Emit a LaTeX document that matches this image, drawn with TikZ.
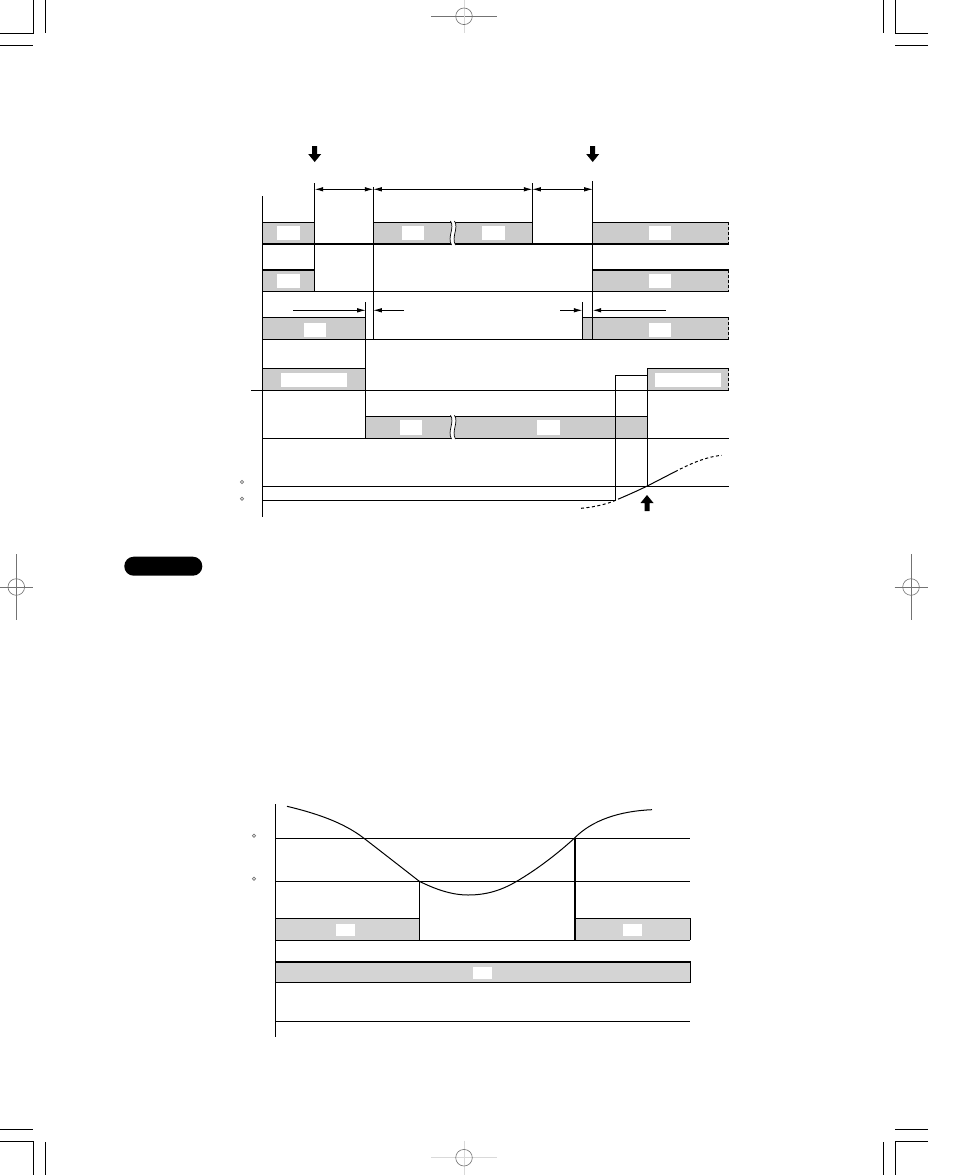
\documentclass[tikz,border=0pt]{standalone}
\usetikzlibrary{arrows.meta}
\definecolor{bandA}{gray}{0.80}
\definecolor{bandB}{gray}{0.83}
\tikzset{
  x=1pt,y=-1pt,
  ln/.style={line width=1pt,black},
  thick line/.style={line width=2pt,black},
  crop/.style={line width=1pt,black},
  reg/.style={line width=0.6pt,black!55},
  regl/.style={line width=1pt,black!15},
  white label/.style={fill=white,draw=none},
  band/.style={fill=bandA,draw=none},
  bandb/.style={fill=bandB,draw=none},
  dim/.style={line width=0.8pt,black,{Latex[length=8.5pt,width=4.5pt]}-{Latex[length=8.5pt,width=4.5pt]}},
  dimr/.style={line width=0.8pt,black,-{Latex[length=8.5pt,width=4.5pt]}},
  curve/.style={line width=1pt,black},
  dcurve/.style={line width=1pt,black,dash pattern=on 3pt off 2.5pt},
  dot/.style={line width=0.7pt,draw=black!55,fill=none},
}
\newcommand{\blockdown}[2]{\fill[black] (#1-2.5,#2) -- (#1+2.5,#2) -- (#1+2.5,#2+8) -- (#1+6.5,#2+8) -- (#1,#2+16) -- (#1-6.5,#2+8) -- (#1-2.5,#2+8) -- cycle;}
\newcommand{\blockup}[2]{\fill[black] (#1-2.5,#2) -- (#1+2.5,#2) -- (#1+2.5,#2-8) -- (#1+6.5,#2-8) -- (#1,#2-16) -- (#1-6.5,#2-8) -- (#1-2.5,#2-8) -- cycle;}
\newcommand{\squiggle}[3]{%
  \fill[white] (#1-1.5,#2-1) .. controls (#1+3,#2+6) and (#1-5,#3-7) .. (#1-0.5,#3+1) -- (#1+3.5,#3+1) .. controls (#1-1,#3-7) and (#1+7,#2+6) .. (#1+2.5,#2-1) -- cycle;
  \draw[line width=0.7pt] (#1-1.5,#2-1) .. controls (#1+3,#2+6) and (#1-5,#3-7) .. (#1-0.5,#3+1);
  \draw[line width=0.7pt] (#1+2.5,#2-1) .. controls (#1+7,#2+6) and (#1-1,#3-7) .. (#1+3.5,#3+1);}
% x, y, half horizontal, half vertical, horizontal style, vertical style
\newcommand{\regmark}[6]{%
  \draw[#5] (#1-#3,#2) -- (#1+#3,#2);
  \draw[#6] (#1,#2-#4) -- (#1,#2+#4);
  \draw[reg] (#1,#2) circle[radius=8.3];}
\begin{document}
\begin{tikzpicture}
\useasboundingbox (0,0) rectangle (954,1175);
\fill[white] (0,0) rectangle (954,1175);

% ---- crop marks
\draw[crop] (0,33.3) -- (33.3,33.3) -- (33.3,0);
\draw[crop] (0,45.3) -- (33,45.3);
\draw[crop] (45.3,0) -- (45.3,33);
\draw[crop] (928,33.3) -- (895.3,33.3) -- (895.3,0);
\draw[crop] (928,45.3) -- (895.3,45.3);
\draw[crop] (883.3,0) -- (883.3,33);
\draw[crop] (0,1141.3) -- (33.3,1141.3) -- (33.3,1175);
\draw[crop] (0,1129.3) -- (33,1129.3);
\draw[crop] (45.3,1142) -- (45.3,1175);
\draw[crop] (928,1141.3) -- (895.3,1141.3) -- (895.3,1175);
\draw[crop] (928,1129.3) -- (895.3,1129.3);
\draw[crop] (883.3,1142) -- (883.3,1175);

% ---- registration marks
\begin{scope}
\clip (0,0) rectangle (954,1175);
\regmark{464}{16.3}{33}{16.5}{reg}{regl}
\regmark{464}{1157.7}{33}{17}{regl}{regl}
\regmark{16.3}{587}{16.5}{33}{reg}{reg}
\regmark{911}{587}{16.5}{33}{reg}{reg}
\end{scope}

% ---- black pill
\fill[black,rounded corners=9.4pt] (124.3,556.7) rectangle (202.3,575.7);

% ---- upper chart: bands
\fill[band] (262.7,222.3) rectangle (314.7,243.7);
\fill[band] (373.3,222.3) rectangle (532.3,243.7);
\fill[band] (592.7,222.3) rectangle (728.5,243.7);
\fill[band] (262.7,269.7) rectangle (314.7,291.3);
\fill[band] (592.7,269.7) rectangle (728.5,291.3);
\fill[band] (262.7,317.3) rectangle (365.7,339.3);
\fill[band] (582.3,317.3) rectangle (728.5,339.3);
\fill[band] (262.7,368.3) rectangle (365.7,390.3);
\fill[band] (647.3,368.3) rectangle (728.5,390.3);
\fill[band] (365.7,416.3) rectangle (647.3,438);

% ---- upper chart: white labels
\fill[white label] (277,226) rectangle (300,240);
\fill[white label] (402,226) rectangle (424,240);
\fill[white label] (482,226) rectangle (505,240);
\fill[white label] (649,226) rectangle (671,240);
\fill[white label] (277,274) rectangle (300,288);
\fill[white label] (649,274) rectangle (671,288);
\fill[white label] (304,323) rectangle (326,337);
\fill[white label] (649,323) rectangle (671,337);
\fill[white label] (281,373) rectangle (347,387);
\fill[white label] (655,373) rectangle (721,387);
\fill[white label] (400,420) rectangle (422,435);
\fill[white label] (537,420) rectangle (560,435);

% ---- upper chart: horizontal lines
\draw[ln] (262.7,222.3) -- (314.7,222.3);
\draw[ln] (373.3,222.3) -- (532.3,222.3);
\draw[ln] (592.7,222.3) -- (729,222.3);
\draw[thick line] (262.7,244) -- (729,244);
\draw[thick line] (262.7,270) -- (314.7,270);
\draw[thick line] (592.7,270) -- (729,270);
\draw[ln] (262.7,291.3) -- (729,291.3);
\draw[ln] (262.7,317.3) -- (365.7,317.3);
\draw[ln] (582.3,317.3) -- (729,317.3);
\draw[ln] (262.7,339.3) -- (729,339.3);
\draw[ln] (262.7,368.3) -- (365.7,368.3);
\draw[ln] (647.3,368.3) -- (729,368.3);
\draw[ln] (251,390.3) -- (729,390.3);
\draw[ln] (365.7,416.3) -- (647.3,416.3);
\draw[ln] (262.7,438.3) -- (729,438.3);
\draw[ln] (262.7,486.3) -- (729,486.3);
\draw[ln] (262.7,500.3) -- (615.7,500.3);

% ---- upper chart: verticals
\draw[ln] (262.7,196) -- (262.7,516.7);
\draw[ln] (314.7,183) -- (314.7,291.3);
\draw[ln] (373.3,187) -- (373.3,339.3);
\draw[ln] (532.3,183) -- (532.3,243.7);
\draw[ln] (592.7,181) -- (592.7,339.3);
\draw[ln] (365.7,302) -- (365.7,438.3);
\draw[ln] (582.3,302) -- (582.3,339.3);
\draw[ln] (615.7,500.3) -- (615.7,375.3) -- (647.3,375.3);
\draw[ln] (647.3,368.3) -- (647.3,486.3);
\draw[line width=1pt,dash pattern=on 3pt off 2pt] (728.5,222.3) -- (728.5,243);
\draw[line width=1pt,dash pattern=on 3pt off 2pt] (728.5,270) -- (728.5,291.3);
\draw[line width=1pt,dash pattern=on 3pt off 2pt] (728.5,317.3) -- (728.5,339.3);
\draw[line width=1pt,dash pattern=on 3pt off 2pt] (728.5,368.3) -- (728.5,390.3);

% ---- squiggles
\squiggle{452}{222}{244}
\squiggle{452}{416.3}{438}

% ---- dimension arrows
\draw[dim] (314.7,189.3) -- (373.3,189.3);
\draw[dim] (373.3,189.3) -- (532.3,189.3);
\draw[dim] (532.3,189.3) -- (592.7,189.3);
\draw[dimr] (293,310.3) -- (365.7,310.3);
\draw[dimr] (404,310.3) -- (373.3,310.3);
\draw[dimr] (560,310.3) -- (582.3,310.3);
\draw[dimr] (665.7,310.3) -- (592.7,310.3);

% ---- block arrows
\blockdown{314.7}{146}
\blockdown{592.7}{146}
\blockup{647}{511}

% ---- upper chart: ramp
\draw[dcurve] (581,508.3) .. controls (595,507) and (608,504) .. (618,499.2);
\draw[curve] (618,499.2) .. controls (628,495) and (638,490.5) .. (647.3,486) -- (675,471.7);
\draw[dcurve] (675,471.7) .. controls (690,464) and (705,457) .. (721.7,455.3);

% ---- small degree marks
\draw[dot] (242,482) circle[radius=1.6];
\draw[dot] (242,498.7) circle[radius=1.6];
\draw[dot] (254,835.7) circle[radius=1.6];
\draw[dot] (254,878.7) circle[radius=1.6];

% ---- lower chart: bands
\fill[bandb] (275.3,918.3) rectangle (419.3,940.3);
\fill[bandb] (574.3,918.3) rectangle (690.3,940.3);
\fill[bandb] (275.3,961.7) rectangle (690.3,982.3);
\fill[white label] (336,924) rectangle (355,936);
\fill[white label] (623,924) rectangle (642,936);
\fill[white label] (473,967) rectangle (492,979);

% ---- lower chart: lines
\draw[ln] (275.3,804) -- (275.3,1036.7);
\draw[ln] (275.3,838.3) -- (690,838.3);
\draw[ln] (275.3,881.3) -- (690,881.3);
\draw[ln] (275.3,918.3) -- (419.3,918.3);
\draw[ln] (574.3,918.3) -- (690.3,918.3) -- (690.3,940.3);
\draw[ln] (275.3,940.3) -- (690.3,940.3);
\draw[thick line] (275.3,962) -- (690.8,962);
\draw[ln] (690.3,961.7) -- (690.3,982.3) -- (275.3,982.3);
\draw[ln] (275.3,1021.3) -- (690,1021.3);
\draw[ln] (419.3,881.3) -- (419.3,940.3);
\draw[thick line] (574.5,838.3) -- (574.5,940.3);

% ---- lower chart: curve
\draw[curve] (287,806.3) .. controls (315,813) and (343,822) .. (364,838.3)
  .. controls (383,853) and (401,867) .. (419.3,881.3)
  .. controls (433,888) and (450,895) .. (468,895)
  .. controls (487,895) and (502,890) .. (516.7,881.3)
  .. controls (536,870) and (556,855) .. (574.3,838.3)
  .. controls (592,820) and (620,811) .. (652,809.7);
\end{tikzpicture}
\end{document}
